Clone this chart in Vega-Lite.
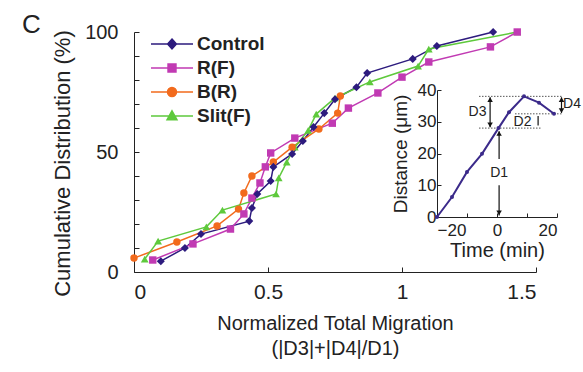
{
  "$schema": "https://vega.github.io/schema/vega-lite/v6.json",
  "width": 402,
  "height": 240,
  "autosize": {"type": "none"},
  "padding": {"left": 134, "top": 32, "right": 47, "bottom": 100},
  "background": "white",
  "config": {"view": {"stroke": null}, "font": "Liberation Sans"},
  "title": {"text": "C", "anchor": "start", "frame": "group", "dx": -112, "offset": -16, "fontSize": 26, "fontWeight": "normal", "color": "#222", "font": "Liberation Sans"},
  "datasets": {
    "main": [
      {"series": "Control", "x": 0.10, "y": 4.5},
      {"series": "Control", "x": 0.19, "y": 10.0},
      {"series": "Control", "x": 0.25, "y": 15.8},
      {"series": "Control", "x": 0.43, "y": 21.2},
      {"series": "Control", "x": 0.44, "y": 26.7},
      {"series": "Control", "x": 0.46, "y": 32.5},
      {"series": "Control", "x": 0.51, "y": 37.9},
      {"series": "Control", "x": 0.52, "y": 43.8},
      {"series": "Control", "x": 0.59, "y": 49.2},
      {"series": "Control", "x": 0.63, "y": 54.6},
      {"series": "Control", "x": 0.67, "y": 60.4},
      {"series": "Control", "x": 0.71, "y": 66.2},
      {"series": "Control", "x": 0.75, "y": 72.0},
      {"series": "Control", "x": 0.83, "y": 77.0},
      {"series": "Control", "x": 0.87, "y": 82.9},
      {"series": "Control", "x": 1.04, "y": 88.8},
      {"series": "Control", "x": 1.13, "y": 94.2},
      {"series": "Control", "x": 1.34, "y": 100.0},
      {"series": "R(F)", "x": 0.07, "y": 5.0},
      {"series": "R(F)", "x": 0.22, "y": 11.7},
      {"series": "R(F)", "x": 0.36, "y": 17.9},
      {"series": "R(F)", "x": 0.41, "y": 24.2},
      {"series": "R(F)", "x": 0.44, "y": 30.8},
      {"series": "R(F)", "x": 0.47, "y": 37.1},
      {"series": "R(F)", "x": 0.49, "y": 43.8},
      {"series": "R(F)", "x": 0.51, "y": 49.6},
      {"series": "R(F)", "x": 0.60, "y": 55.8},
      {"series": "R(F)", "x": 0.74, "y": 62.0},
      {"series": "R(F)", "x": 0.80, "y": 68.3},
      {"series": "R(F)", "x": 0.91, "y": 74.6},
      {"series": "R(F)", "x": 1.00, "y": 81.2},
      {"series": "R(F)", "x": 1.10, "y": 87.5},
      {"series": "R(F)", "x": 1.33, "y": 93.8},
      {"series": "R(F)", "x": 1.43, "y": 100.0},
      {"series": "B(R)", "x": 0.00, "y": 5.8},
      {"series": "B(R)", "x": 0.16, "y": 12.5},
      {"series": "B(R)", "x": 0.31, "y": 19.2},
      {"series": "B(R)", "x": 0.39, "y": 26.2},
      {"series": "B(R)", "x": 0.41, "y": 32.9},
      {"series": "B(R)", "x": 0.44, "y": 40.0},
      {"series": "B(R)", "x": 0.52, "y": 45.8},
      {"series": "B(R)", "x": 0.59, "y": 52.0},
      {"series": "B(R)", "x": 0.69, "y": 59.6},
      {"series": "B(R)", "x": 0.76, "y": 66.2},
      {"series": "B(R)", "x": 0.77, "y": 73.3},
      {"series": "Slit(F)", "x": 0.04, "y": 5.4},
      {"series": "Slit(F)", "x": 0.09, "y": 12.9},
      {"series": "Slit(F)", "x": 0.27, "y": 18.8},
      {"series": "Slit(F)", "x": 0.33, "y": 25.8},
      {"series": "Slit(F)", "x": 0.53, "y": 32.5},
      {"series": "Slit(F)", "x": 0.54, "y": 39.2},
      {"series": "Slit(F)", "x": 0.57, "y": 45.8},
      {"series": "Slit(F)", "x": 0.60, "y": 52.0},
      {"series": "Slit(F)", "x": 0.65, "y": 59.0},
      {"series": "Slit(F)", "x": 0.68, "y": 65.8},
      {"series": "Slit(F)", "x": 0.75, "y": 72.5},
      {"series": "Slit(F)", "x": 0.88, "y": 79.2},
      {"series": "Slit(F)", "x": 1.06, "y": 85.8},
      {"series": "Slit(F)", "x": 1.10, "y": 92.9},
      {"series": "Slit(F)", "x": 1.43, "y": 100.0}
    ],
    "inset": [
      {"t": -20, "d": 0},
      {"t": -15, "d": 6.3},
      {"t": -10, "d": 14.2},
      {"t": -5, "d": 19.9},
      {"t": 0.5, "d": 28},
      {"t": 4, "d": 33},
      {"t": 9, "d": 38},
      {"t": 14, "d": 36},
      {"t": 19, "d": 32.5}
    ],
    "hdot": [
      {"t": -6, "t2": 22, "d": 38},
      {"t": -6, "t2": 15, "d": 28},
      {"t": 6, "t2": 22, "d": 32.5}
    ],
    "arrows": [
      {"t": -2.3, "d": 28.3, "d2": 37.7},
      {"t": 21.5, "d": 32.8, "d2": 37.7},
      {"t": 13.7, "d": 28.8, "d2": 31.8},
      {"t": 0.7, "d": 18.3, "d2": 27},
      {"t": 0.7, "d": 0.5, "d2": 10}
    ],
    "heads": [
      {"t": -2.3, "d": 37.0, "dir": "up"},
      {"t": 21.5, "d": 37.0, "dir": "up"},
      {"t": 0.7, "d": 26.3, "dir": "up"},
      {"t": -2.3, "d": 29.0, "dir": "down"},
      {"t": 21.5, "d": 33.5, "dir": "down"},
      {"t": 0.7, "d": 1.3, "dir": "down"}
    ],
    "labels": [
      {"t": -6.5, "d": 33.2, "label": "D3"},
      {"t": 25, "d": 35.5, "label": "D4"},
      {"t": 8.5, "d": 29.9, "label": "D2"},
      {"t": 0.7, "d": 14, "label": "D1"}
    ]
  },
  "layer": [
    {
      "data": {"name": "main"},
      "encoding": {
        "x": {
          "field": "x", "type": "quantitative",
          "scale": {"domain": [0, 1.5], "nice": false, "zero": false},
          "axis": {
            "values": [0, 0.5, 1, 1.5], "format": "~g",
            "title": ["Normalized Total Migration", "(|D3|+|D4|/D1)"],
            "tickSize": -5, "labelFontSize": 21, "labelPadding": 14,
            "titleFontSize": 20, "titleFontWeight": "normal", "titlePadding": 11, "titleLineHeight": 25,
            "grid": false, "domainColor": "#222", "tickColor": "#222", "labelColor": "#222", "titleColor": "#222",
            "labelFont": "Liberation Sans", "titleFont": "Liberation Sans"
          }
        },
        "y": {
          "field": "y", "type": "quantitative",
          "scale": {"domain": [0, 100], "nice": false},
          "axis": {
            "values": [0, 10, 20, 30, 40, 50, 60, 70, 80, 90, 100],
            "labelExpr": "datum.value % 50 === 0 ? datum.label : ''",
            "title": "Cumulative Distribution (%)",
            "tickSize": -5, "labelFontSize": 20, "labelPadding": 21,
            "titleFontSize": 22, "titleFontWeight": "normal", "titlePadding": 10, "titleY": 131,
            "grid": false, "domainColor": "#222", "tickColor": "#222", "labelColor": "#222", "titleColor": "#222",
            "labelFont": "Liberation Sans", "titleFont": "Liberation Sans"
          }
        },
        "color": {
          "field": "series", "type": "nominal",
          "scale": {"domain": ["Control", "R(F)", "B(R)", "Slit(F)"], "range": ["#2d1b7e", "#c13ab3", "#f26b1d", "#5ec93c"]},
          "legend": {
            "orient": "none", "legendX": 16, "legendY": 2, "title": null,
            "labelFontSize": 19, "labelFontWeight": "bold", "labelColor": "#222", "labelFont": "Liberation Sans",
            "symbolSize": 324, "symbolStrokeWidth": 1.5, "labelOffset": 27, "rowPadding": 4,
            "symbolOpacity": 1,
            "encode": {
              "symbols": {
                "update": {
                  "shape": {"signal": "datum.value === 'Control' ? 'M-1,0H3.667M1.333,-0.55L1.823,0L1.333,0.55L0.843,0Z' : datum.value === 'R(F)' ? 'M-1,0H3.667M0.893,-0.44H1.773V0.44H0.893Z' : datum.value === 'B(R)' ? 'M-1,0H3.667M1.833,0A0.5,0.5,0,1,1,0.833,0A0.5,0.5,0,1,1,1.833,0Z' : 'M-1,0H3.667M1.333,-0.58L1.883,0.42L0.783,0.42Z'"},
                  "fill": {"signal": "scale('color', datum.value)"},
                  "stroke": {"signal": "scale('color', datum.value)"}
                }
              }
            }
          }
        },
        "order": {"field": "y", "type": "quantitative"}
      },
      "layer": [
        {"mark": {"type": "line", "strokeWidth": 1.5}},
        {
          "transform": [{"filter": "datum.series === 'Slit(F)'"}],
          "mark": {"type": "point", "shape": "triangle-up", "filled": true, "size": 60, "opacity": 1}
        },
        {
          "transform": [{"filter": "datum.series === 'B(R)'"}],
          "mark": {"type": "point", "shape": "circle", "filled": true, "size": 55, "opacity": 1}
        },
        {
          "transform": [{"filter": "datum.series === 'R(F)'"}],
          "mark": {"type": "point", "shape": "square", "filled": true, "size": 55, "opacity": 1}
        },
        {
          "transform": [{"filter": "datum.series === 'Control'"}],
          "mark": {"type": "point", "shape": "diamond", "filled": true, "size": 65, "opacity": 1}
        }
      ]
    },
    {
      "encoding": {
        "x": {
          "field": "t", "type": "quantitative",
          "scale": {"domain": [-20, 20], "range": [303, 423], "nice": false, "zero": false},
          "axis": {
            "orient": "bottom", "offset": -55,
            "values": [-20, -10, 0, 10, 20],
            "labelExpr": "datum.value % 20 === 0 ? datum.label : ''",
            "title": "Time (min)", "tickSize": -4, "labelFontSize": 17, "labelPadding": 9,
            "titleFontSize": 20, "titleFontWeight": "normal", "titlePadding": 2,
            "grid": false, "domainColor": "#222", "tickColor": "#222", "labelColor": "#222", "titleColor": "#222",
            "labelFont": "Liberation Sans", "titleFont": "Liberation Sans"
          }
        },
        "y": {
          "field": "d", "type": "quantitative",
          "scale": {"domain": [0, 40], "range": [185, 58], "nice": false},
          "axis": {
            "orient": "left", "offset": -303,
            "values": [0, 10, 20, 30, 40],
            "title": "Distance (μm)", "tickSize": -4, "labelFontSize": 17, "labelPadding": 5,
            "titleFontSize": 19, "titleFontWeight": "normal", "titlePadding": 7,
            "grid": false, "domainColor": "#222", "tickColor": "#222", "labelColor": "#222", "titleColor": "#222",
            "labelFont": "Liberation Sans", "titleFont": "Liberation Sans"
          }
        }
      },
      "layer": [
        {
          "data": {"name": "hdot"},
          "mark": {"type": "rule", "color": "#555", "strokeWidth": 1, "strokeDash": [1.5, 1.5]},
          "encoding": {"x2": {"field": "t2"}}
        },
        {
          "data": {"name": "inset"},
          "mark": {"type": "line", "color": "#3b2a8a", "strokeWidth": 2, "point": {"filled": true, "size": 16, "color": "#3b2a8a"}}
        },
        {
          "data": {"name": "arrows"},
          "mark": {"type": "rule", "color": "#111", "strokeWidth": 1.2},
          "encoding": {"y2": {"field": "d2"}}
        },
        {
          "data": {"name": "heads"},
          "transform": [{"filter": "datum.dir === 'up'"}],
          "mark": {"type": "point", "shape": "triangle-up", "filled": true, "size": 30, "color": "#111", "opacity": 1}
        },
        {
          "data": {"name": "heads"},
          "transform": [{"filter": "datum.dir === 'down'"}],
          "mark": {"type": "point", "shape": "triangle-down", "filled": true, "size": 30, "color": "#111", "opacity": 1}
        },
        {
          "data": {"name": "labels"},
          "mark": {"type": "text", "fontSize": 14, "font": "Liberation Sans", "color": "#222"},
          "encoding": {"text": {"field": "label"}}
        }
      ]
    }
  ],
  "resolve": {
    "scale": {"x": "independent", "y": "independent"},
    "axis": {"x": "independent", "y": "independent"}
  }
}
